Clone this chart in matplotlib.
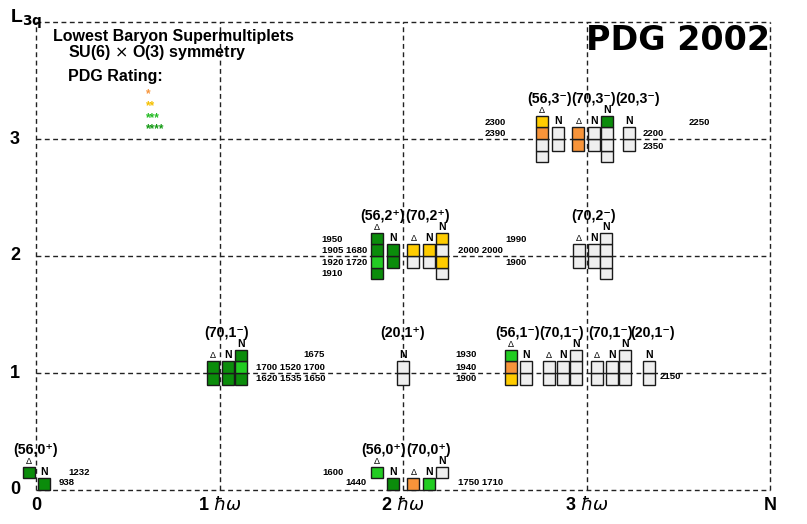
import matplotlib
matplotlib.use('Agg')
import matplotlib.pyplot as plt
from matplotlib.patches import Rectangle

plt.rcParams['font.family'] = ['Liberation Sans', 'DejaVu Sans']

# colour code for PDG rating of each state
cmap = {'D': '#0b8c0b',   # ****
        'G': '#22cc22',   # ***
        'Y': '#ffcc00',   # **
        'O': '#f7943a',   # *
        'W': '#efefef'}   # not seen

# columns of states: (L, x left, label, first row, colours bottom->top)
columns = [
    (0, -0.072, 'Δ', 1, 'D'),
    (0, 0.013, 'N', 0, 'D'),
    (0, 1.826, 'Δ', 1, 'G'),
    (0, 1.911, 'N', 0, 'D'),
    (0, 2.023, 'Δ', 0, 'O'),
    (0, 2.111, 'N', 0, 'G'),
    (0, 2.178, 'N', 1, 'W'),
    (1, 0.930, 'Δ', -1, 'DD'),
    (1, 1.012, 'N', -1, 'DD'),
    (1, 1.084, 'N', -1, 'DGD'),
    (1, 1.966, 'N', -1, 'WW'),
    (1, 2.556, 'Δ', -1, 'YOG'),
    (1, 2.638, 'N', -1, 'WW'),
    (1, 2.761, 'Δ', -1, 'WW'),
    (1, 2.841, 'N', -1, 'WW'),
    (1, 2.910, 'N', -1, 'WWW'),
    (1, 3.023, 'Δ', -1, 'WW'),
    (1, 3.106, 'N', -1, 'WW'),
    (1, 3.177, 'N', -1, 'WWW'),
    (1, 3.306, 'N', -1, 'WW'),
    (2, 1.824, 'Δ', -2, 'DGDD'),
    (2, 1.911, 'N', -1, 'DD'),
    (2, 2.023, 'Δ', -1, 'WY'),
    (2, 2.111, 'N', -1, 'WY'),
    (2, 2.178, 'N', -2, 'WYWY'),
    (2, 2.925, 'Δ', -1, 'WW'),
    (2, 3.010, 'N', -1, 'WW'),
    (2, 3.074, 'N', -2, 'WWWW'),
    (3, 2.723, 'Δ', -2, 'WWOY'),
    (3, 2.810, 'N', -1, 'WW'),
    (3, 2.923, 'Δ', -1, 'OO'),
    (3, 3.006, 'N', -1, 'WW'),
    (3, 3.077, 'N', -2, 'WWWD'),
    (3, 3.201, 'N', -1, 'WW'),
]

# supermultiplet names and where they sit
mult_names = ['(56,0⁺)', '(56,0⁺)', '(70,0⁺)',
              '(70,1⁻)', '(20,1⁺)', '(56,1⁻)', '(70,1⁻)',
              '(70,1⁻)', '(20,1⁻)',
              '(56,2⁺)', '(70,2⁺)', '(70,2⁻)',
              '(56,3⁻)', '(70,3⁻)', '(20,3⁻)']
mult_x = [0.0, 1.894, 2.139, 1.038, 2.0, 2.627, 2.866, 3.130, 3.360,
          1.891, 2.133, 3.037, 2.796, 3.037, 3.277]
mult_L = [0, 0, 0, 1, 1, 1, 1, 1, 1, 2, 2, 2, 3, 3, 3]

# masses (MeV)
mass_text = ['1232', '938', '1600', '1440', '1750 1710',
             '1675', '1700 1520 1700', '1620 1535 1650',
             '1930', '1940', '1900', '2150',
             '1950', '1905 1680', '1920 1720', '1910',
             '2000 2000', '1990', '1900',
             '2300', '2390', '2200', '2350', '2250']
mass_x = [0.174, 0.125, 1.559, 1.684, 2.300,
          1.455, 1.199, 1.199,
          2.283, 2.283, 2.283, 3.401,
          1.557, 1.557, 1.557, 1.557,
          2.298, 2.560, 2.560,
          2.447, 2.447, 3.306, 3.306, 3.559]
mass_y = [0.148, 0.062, 0.148, 0.062, 0.062,
          1.154, 1.049, 0.955,
          1.154, 1.049, 0.955, 0.966,
          2.143, 2.043, 1.946, 1.852,
          2.043, 2.143, 1.946,
          3.139, 3.048, 3.043, 2.940, 3.139]

rating_stars = ['*', '**', '***', '****']
rating_colors = ['#f7943a', '#f5c000', '#22bb22', '#119911']

bw = 0.066
bh = 0.1

fig = plt.figure(figsize=(8.07, 5.24), dpi=100)
ax = fig.add_axes([0, 0, 1, 1])
ax.set_xlim(-36 / 183.5, 771 / 183.5)
ax.set_ylim(-34 / 117.0, 490 / 117.0)
ax.axis('off')

# dashed frame / grid
ls = (0, (3.5, 2.5))
for i in range(5):
    ax.plot([i, i], [0, 4], color='#222222', lw=1, ls=ls, zorder=1)
    ax.plot([0, 4], [i, i], color='#222222', lw=1, ls=ls, zorder=1)

for L, x0, lab, r0, cols in columns:
    for k, c in enumerate(cols):
        y0 = L + (r0 + k) * bh
        ax.add_patch(Rectangle((x0, y0), bw, bh, facecolor=cmap[c],
                               edgecolor='#1a1a1a', lw=1.0, zorder=3))
    ytop = L + (r0 + len(cols)) * bh
    if lab == 'N':
        ax.text(x0 + bw / 2, ytop + 0.008, lab, ha='center', va='bottom',
                fontsize=7.5, fontweight='bold', zorder=4)
    else:
        ax.text(x0 + bw / 2, ytop + 0.008, lab, ha='center', va='bottom',
                fontsize=6.5, zorder=4)

for name, x, L in zip(mult_names, mult_x, mult_L):
    ax.text(x, L + 0.342, name, ha='center', va='center', fontsize=10.2,
            fontweight='bold', zorder=4)

for t, x, y in zip(mass_text, mass_x, mass_y):
    ax.text(x, y, t, ha='left', va='center', fontsize=6.8,
            fontweight='bold', zorder=4)

# header texts
ax.text(0.093, 3.880, 'Lowest Baryon Supermultiplets', fontsize=11.5,
        fontweight='bold', va='center')
ax.text(0.176, 3.740, r'SU(6) $\times$ O(3) symmetry', fontsize=11.5,
        fontweight='bold', va='center')
ax.text(0.176, 3.535, 'PDG Rating:', fontsize=11.5, fontweight='bold',
        va='center')
for i, (s, c) in enumerate(zip(rating_stars, rating_colors)):
    ax.text(0.598, 3.380 - i * 0.099, s, color=c, fontsize=8.5,
            fontweight='bold', va='center')

ax.text(4.0, 3.846, 'PDG 2002', family='DejaVu Sans', fontsize=24,
        fontweight='bold', ha='right', va='center')

# axis labels
for i in range(4):
    ax.text(-0.114, i, str(i), ha='center', va='center', fontsize=13,
            fontweight='bold')
ax.text(-0.142, 4.02, r'L$_{\mathbf{3q}}$', ha='left', va='center',
        fontsize=14, fontweight='bold')
xlabels = ['0', r'1 $\hbar\omega$', r'2 $\hbar\omega$', r'3 $\hbar\omega$', 'N']
for i, t in enumerate(xlabels):
    ax.text(i, -0.13, t, ha='center', va='center', fontsize=13,
            fontweight='bold')

plt.savefig('out.png', dpi=100)
